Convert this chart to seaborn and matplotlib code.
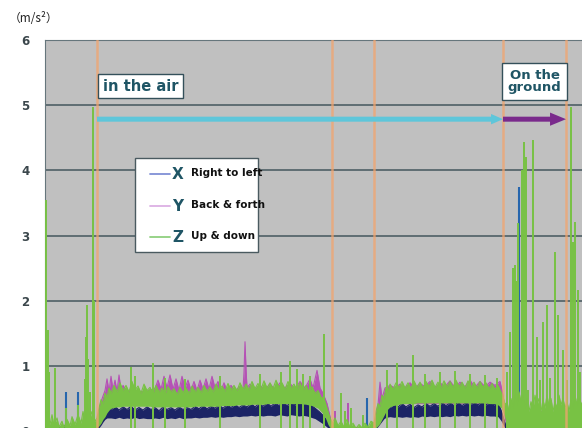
import matplotlib
matplotlib.use("Agg")
import matplotlib.pyplot as plt
import pandas as pd
import seaborn as sns
from matplotlib.patches import Rectangle

# ---------------------------------------------------------------------------
# Acceleration magnitudes (m/s^2) over time (s), as min/max bands per axis
# ---------------------------------------------------------------------------

# Z: up & down
z_t = [0, 2, 5, 7, 9, 12, 14, 17, 19, 22, 25, 27, 30, 33, 36, 38, 40, 43, 45, 47, 50, 52,
       54, 56, 58, 60, 62, 64, 66, 69, 72, 75, 78, 81, 84, 87, 90, 93, 96, 99, 102, 105,
       108, 111, 114, 117, 120, 123, 126, 129, 132, 135, 138, 141, 144, 147, 150, 153, 156, 159, 162, 165,
       168, 171, 174, 177, 180, 183, 186, 189, 192, 195, 198, 201, 204, 207, 210, 213, 216, 219, 222, 225,
       228, 231, 234, 237, 240, 243, 246, 249, 252, 255, 258, 261, 264, 267, 270, 273, 276, 279, 281, 283, 285, 287,
       290, 293, 296, 299, 302, 305, 308, 311, 314, 317, 320, 323, 326, 329,
       331, 333, 335, 337, 339, 341, 343, 345, 348, 351, 354, 357, 360, 363, 366, 369, 372, 375, 378, 381,
       384, 387, 390, 393, 396, 399, 402, 405, 408, 411, 414, 417, 420, 423, 426, 429, 432, 435, 438, 441,
       444, 447, 450, 453, 456, 458, 460,
       462, 464, 466, 468, 470, 472, 474, 476, 478, 480, 482, 484, 486, 488, 490, 492, 494, 496, 498, 500,
       502, 504, 506, 508, 510, 512, 514, 516, 518, 520, 522, 524, 526, 528, 530, 532, 534, 537]
z_hi = [.20, .30, .10, .25, .08, .20, .06, .15, .05, .18, .08, .22, .10, .25, .12, .30, .15, .35, .20, .30, .15, .20,
        .35, .48, .42, .58, .52, .66, .58, .70, .60, .74, .62, .70, .60, .76, .63, .69, .58, .72, .62, .67,
        .58, .70, .60, .66, .57, .68, .60, .65, .56, .67, .59, .66, .58, .69, .60, .67, .59, .70, .61, .68,
        .60, .72, .62, .69, .61, .73, .63, .70, .62, .74, .64, .72, .63, .76, .65, .73, .64, .77, .66, .74,
        .65, .78, .67, .74, .64, .76, .66, .72, .63, .74, .62, .70, .60, .68, .58, .62, .52, .50, .40, .30, .20, .12,
        .20, .08, .15, .06, .18, .05, .12, .04, .10, .05, .12, .06, .15, .12,
        .30, .42, .38, .55, .50, .66, .60, .72, .64, .74, .66, .76, .66, .74, .65, .77, .67, .75, .66, .76,
        .68, .78, .67, .75, .66, .77, .68, .76, .67, .78, .68, .75, .66, .77, .67, .75, .66, .76, .67, .74,
        .65, .73, .64, .70, .60, .52, .40,
        .45, .30, .50, .35, .55, .40, .60, .45, .55, .35, .50, .30, .45, .35, .55, .40, .50, .30, .48, .35,
        .55, .38, .50, .30, .45, .35, .55, .40, .50, .35, .45, .30, .48, .35, .55, .40, .50, .40]
z_lo = [0, 0, 0, 0, 0, 0, 0, 0, 0, 0, 0, 0, 0, 0, 0, 0, 0, 0, 0, 0, 0, .05,
        .08, .12, .18, .22, .28, .32, .35, .36, .37, .37, .38, .38, .38, .38, .38, .38, .38, .38, .38, .38,
        .37, .37, .37, .37, .37, .37, .37, .37, .37, .37, .37, .37, .37, .37, .38, .38, .38, .38, .38, .38,
        .38, .38, .38, .39, .39, .39, .39, .39, .40, .40, .40, .40, .40, .41, .41, .41, .41, .41, .42, .42,
        .42, .42, .42, .42, .42, .42, .42, .42, .42, .42, .42, .41, .40, .39, .37, .35, .30, .25, .18, .10, .05, 0,
        0, 0, 0, 0, 0, 0, 0, 0, 0, 0, 0, 0, 0, .02,
        .05, .08, .12, .18, .24, .30, .34, .37, .39, .40, .41, .42, .42, .42, .42, .42, .43, .43, .43, .43,
        .43, .43, .43, .43, .43, .43, .43, .43, .43, .43, .43, .43, .43, .43, .43, .43, .43, .43, .43, .43,
        .42, .42, .42, .40, .36, .30, .20,
        .05, 0, 0, 0, 0, 0, 0, 0, 0, 0, 0, 0, 0, 0, 0, 0, 0, 0, 0, 0,
        0, 0, 0, 0, 0, 0, 0, 0, 0, 0, 0, 0, 0, 0, 0, 0, 0, 0]
z_spike_t = [1, 3, 4, 10, 21, 33, 40, 41, 42, 43, 45, 48, 49,
             86, 90, 108, 120, 140, 175, 215, 236, 245, 252, 258, 265, 279,
             296, 300, 306, 318,
             342, 352, 368, 380, 395, 410, 425, 440, 452,
             462, 465, 468, 470, 471, 473, 477, 479, 481, 483, 488, 492, 495, 498, 502, 505, 510, 513, 518, 522,
             526, 528, 530, 533, 535]
z_spike_v = [3.55, 1.55, 0.9, 0.97, 0.35, 0.4, 0.8, 1.45, 1.93, 1.1, 0.6, 4.97, 2.0,
             0.98, 0.85, 1.04, 0.82, 0.8, 0.85, 0.88, 0.9, 1.07, 0.95, 0.88, 0.85, 1.49,
             0.58, 0.3, 0.35, 0.25,
             0.93, 1.04, 1.16, 0.88, 0.9, 0.92, 0.88, 0.86, 0.82,
             0.9, 1.52, 2.5, 2.55, 2.3, 3.19, 4.0, 4.43, 4.2, 0.63, 4.46, 1.45, 0.78, 1.67, 1.93, 0.81, 2.75, 1.78, 1.24, 0.78,
             4.97, 2.9, 3.2, 2.16, 0.9]

# X: right to left
x_t = [0, 10, 20, 30, 40, 50,
       52, 54, 56, 58, 60, 62,
       66, 70, 74, 78, 82, 86, 90, 94, 98, 102,
       106, 110, 114, 118, 122, 126, 130, 134, 138, 142,
       146, 150, 154, 158, 162, 166, 170, 174, 178, 182,
       186, 190, 194, 198, 202, 206, 210, 214, 218, 222,
       226, 230, 234, 238, 242, 246, 250, 254, 258,
       262, 266, 270, 274, 278, 282, 285, 287,
       295, 305, 315, 325, 329,
       331, 333, 335, 337, 339, 341,
       345, 349, 353, 357, 361, 365, 369, 373, 377, 381, 385, 389, 393, 397,
       401, 405, 409, 413, 417, 421, 425, 429, 433, 437, 441, 445, 449, 453,
       456, 458, 460, 462,
       470, 480, 490, 500, 510, 520, 537]
x_hi = [.06, .03, .08, .04, .07, .05,
        .08, .14, .22, .28, .33, .37,
        .33, .38, .32, .37, .33, .38, .32, .36, .32, .37,
        .33, .36, .31, .37, .33, .36, .32, .37, .33, .36,
        .33, .38, .34, .39, .34, .38, .35, .40, .35, .40,
        .36, .41, .36, .40, .37, .42, .37, .42, .38, .43,
        .38, .43, .39, .44, .39, .43, .40, .45, .41,
        .43, .40, .35, .30, .24, .16, .08, .04,
        .04, .06, .03, .05, .04,
        .12, .20, .26, .32, .36, .40,
        .36, .41, .37, .42, .37, .41, .36, .40, .37, .42, .38, .42, .38, .43,
        .39, .43, .39, .44, .39, .43, .40, .44, .40, .45, .40, .44, .40, .43,
        .32, .22, .12, .05,
        .08, .05, .10, .05, .08, .04, .06]
x_lo = [0, 0, 0, 0, 0, 0,
        .02, .05, .09, .14, .18, .20,
        .20, .19, .21, .19, .20, .19, .21, .19, .20, .19,
        .19, .20, .19, .21, .19, .20, .19, .21, .19, .20,
        .20, .21, .20, .21, .21, .22, .21, .22, .21, .22,
        .22, .23, .22, .23, .23, .24, .23, .24, .23, .24,
        .24, .23, .25, .24, .23, .25, .24, .23, .24,
        .23, .21, .19, .15, .11, .06, .02, 0,
        0, 0, 0, 0, 0,
        .03, .07, .11, .15, .19, .21,
        .22, .21, .22, .21, .22, .21, .22, .21, .23, .22, .23, .22, .23, .22,
        .23, .22, .24, .23, .24, .23, .24, .23, .24, .23, .24, .23, .23, .22,
        .16, .10, .04, 0,
        0, 0, 0, 0, 0, 0, 0]
x_spike_t = [21, 33, 322, 474]
x_spike_v = [0.6, 0.6, 0.5, 3.74]

# Y: back & forth
y_t = [0, 25, 50, 52, 56, 60, 62, 64, 66, 68, 70, 72, 74, 76, 78, 82, 90, 100, 110,
       113, 116, 119, 122, 125, 128, 131, 134, 137, 140, 143, 146,
       149, 152, 155, 158, 161, 164, 167, 170, 173, 176, 179, 182,
       186, 190, 195, 198, 199, 200, 201, 202,
       205, 210, 215, 220, 225, 230, 235, 240, 245, 250, 255, 260, 265,
       268, 272, 275, 278, 282, 285, 287,
       300, 329,
       333, 335, 337, 340, 345,
       350, 355, 360, 365, 370, 375, 380, 385, 390, 395, 400,
       405, 410, 415, 420, 425, 430, 435, 440, 445, 450, 455,
       458, 460, 462, 537]
y_hi = [.05, .04, .06, .15, .45, .62, .80, .60, .84, .62, .78, .60, .86, .62, .70, .60, .62, .60, .65,
        .78, .64, .84, .66, .86, .64, .80, .62, .84, .66, .78, .62,
        .76, .62, .78, .64, .80, .64, .84, .66, .76, .62, .74, .62,
        .70, .62, .68, .64, .90, 1.37, 0.95, .66,
        .72, .64, .70, .63, .72, .64, .74, .66, .73, .64, .76, .66, .80,
        .66, .93, .66, .58, .42, .22, .10,
        .05, .05,
        .40, .75, .50, .66, .70,
        .66, .72, .66, .74, .66, .73, .68, .76, .66, .74, .68,
        .77, .66, .75, .68, .78, .67, .76, .68, .75, .70, .76,
        .55, .35, .10, .08]
y_lo = [0, 0, 0, .05, .20, .30, .35, .38, .40, .42, .42, .42, .42, .42, .42, .42, .42, .42, .42,
        .42, .42, .42, .42, .42, .42, .42, .42, .42, .42, .42, .42,
        .42, .42, .42, .42, .42, .42, .42, .42, .42, .42, .42, .42,
        .42, .42, .42, .42, .42, .42, .42, .42,
        .42, .42, .42, .42, .42, .42, .42, .42, .42, .42, .42, .42, .42,
        .40, .38, .33, .28, .18, .08, 0,
        0, 0,
        .10, .15, .20, .30, .40,
        .42, .42, .42, .42, .42, .42, .42, .42, .42, .42, .42,
        .42, .42, .42, .42, .42, .42, .42, .42, .42, .42, .42,
        .30, .15, 0, 0]
y_spike_t = [290, 303, 318, 495, 497]
y_spike_v = [0.3, 0.43, 0.2, 0.35, 0.3]

# flight phase boundaries (s)
phase_marks = [52, 287, 329, 458, 521]
y_ticks = [0, 1, 2, 3, 4, 5, 6]

legend_letters = ["X", "Y", "Z"]
legend_labels = ["Right to left", "Back & forth", "Up & down"]

# ---------------------------------------------------------------------------
sns.set_style("white")
plt.rcParams["font.family"] = ["DejaVu Sans"]

C_Z, C_X, C_XS, C_Y = "#78c244", "#1c2466", "#2766ad", "#b552b5"
C_GRID, C_PHASE = "#45575d", "#f2a46e"
C_TEAL = "#1f5565"

fig = plt.figure(figsize=(5.82, 4.28), dpi=100)
fig.patch.set_facecolor("white")
ax = fig.add_axes([45 / 582, -3 / 428, 537 / 582, 391 / 428])
ax.set_facecolor("#c0c0c0")
ax.set_xlim(0, 537)
ax.set_ylim(0, 6)

for v in y_ticks[1:-1]:
    ax.axhline(v, color=C_GRID, lw=1.1, zorder=1)

bands = [
    (y_t, y_lo, y_hi, C_Y, 2),
    (x_t, x_lo, x_hi, C_X, 3),
    (z_t, z_lo, z_hi, C_Z, 4),
]
for t, lo, hi, col, zo in bands:
    ax.fill_between(t, lo, hi, color=col, lw=0, zorder=zo)
    df = pd.DataFrame({"t": t, "v": hi})
    sns.lineplot(data=df, x="t", y="v", ax=ax, color=col, lw=0.8, zorder=zo)

ax.vlines(y_spike_t, 0, y_spike_v, color=C_Y, lw=1.4, zorder=2)
ax.vlines(x_spike_t, 0, x_spike_v, color=C_XS, lw=1.5, zorder=3)
ax.vlines(z_spike_t, 0, z_spike_v, color=C_Z, lw=1.4, zorder=4)

for m in phase_marks:
    ax.axvline(m, color=C_PHASE, lw=1.8, alpha=0.75, zorder=5)

# phase arrows
arrow_y = 4.785
ax.annotate("", xy=(phase_marks[3], arrow_y), xytext=(phase_marks[0], arrow_y),
            arrowprops=dict(arrowstyle="simple,head_length=0.86,head_width=0.75,tail_width=0.36",
                            color="#5ec6da", lw=0, shrinkA=0, shrinkB=0, mutation_scale=10),
            zorder=6)
ax.annotate("", xy=(phase_marks[4], arrow_y), xytext=(phase_marks[3], arrow_y),
            arrowprops=dict(arrowstyle="simple,head_length=1.15,head_width=0.95,tail_width=0.36",
                            color="#7a2a8c", lw=0, shrinkA=0, shrinkB=0, mutation_scale=10),
            zorder=6)

box = dict(boxstyle="square,pad=0.3", fc="white", ec="#34505a", lw=1.0)
ax.text(95.5, 5.29, "in the air", ha="center", va="center", fontsize=10.5,
        fontweight="bold", color=C_TEAL, bbox=box, zorder=7)
ax.text(489.5, 5.36, "On the\nground", ha="center", va="center", fontsize=9.5,
        fontweight="bold", color=C_TEAL, linespacing=0.95,
        bbox=dict(boxstyle="square,pad=0.42", fc="white", ec="#34505a", lw=1.0), zorder=7)

# legend
ax.add_patch(Rectangle((90, 2.745), 123, 1.445, fc="white", ec="#4a5a60", lw=1.0, zorder=7))
leg_cols = ["#8090d6", "#dcb0e4", "#90d07f"]
leg_y = [3.94, 3.45, 2.975]
for letter, label, col, yy in zip(legend_letters, legend_labels, leg_cols, leg_y):
    ax.plot([105, 125], [yy, yy], color=col, lw=1.3, zorder=8)
    ax.text(133, yy, letter, ha="center", va="center", fontsize=11, fontweight="bold",
            color=C_TEAL, zorder=8)
    ax.text(146, yy + 0.02, label, ha="left", va="center", fontsize=7.5, fontweight="bold",
            color="#111111", zorder=8)

ax.set_yticks(y_ticks)
ax.set_yticklabels([str(v) for v in y_ticks], fontsize=8.5, fontweight="bold", color="#3b474c")
ax.tick_params(axis="y", length=0, pad=11)
ax.set_xticks([])
ax.set_xlabel("")
ax.set_ylabel("")
for side in ["right", "bottom"]:
    ax.spines[side].set_visible(False)
for side in ["top", "left"]:
    ax.spines[side].set_color("#66767c")
    ax.spines[side].set_linewidth(0.8)

fig.text(9 / 582, 1 - 18 / 428, "（m/s²）", ha="left", va="center", fontsize=8.5,
         color="#222222", family=["Noto Sans CJK JP", "DejaVu Sans"])

fig.savefig("out.png", dpi=100)
